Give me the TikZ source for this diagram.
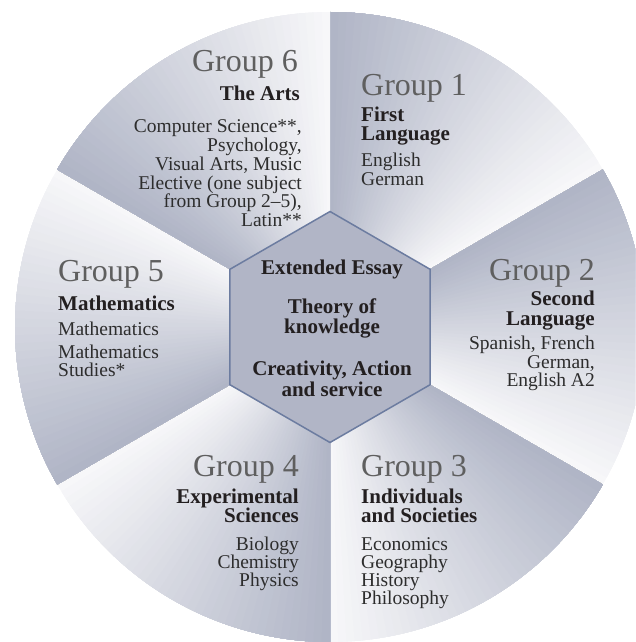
\documentclass[tikz,border=0pt]{standalone}
\usepackage{fontspec}
\setmainfont{Liberation Serif}
\usepackage{tikz}

\definecolor{secdark}{RGB}{176,181,198}
\definecolor{seclight}{RGB}{247,247,249}
\definecolor{corefill}{RGB}{177,181,198}
\definecolor{coreline}{RGB}{108,124,160}
\definecolor{titlegray}{RGB}{95,95,95}
\definecolor{headblack}{RGB}{35,31,32}
\definecolor{itemgray}{RGB}{45,45,45}

\tikzset{
  grouptitle/.style={font=\fontsize{32}{32}\selectfont, text=titlegray, inner sep=0pt},
  subjhead/.style={font=\fontsize{21}{21}\selectfont\bfseries, text=headblack, inner sep=0pt},
  subjitem/.style={font=\fontsize{19.5}{19.5}\selectfont, text=itemgray, inner sep=0pt},
  coretext/.style={font=\fontsize{21}{21}\selectfont\bfseries, text=headblack, inner sep=0pt, anchor=base},
}

\begin{document}
\begin{tikzpicture}[x=1pt,y=1pt]
  \useasboundingbox (0,0) rectangle (635,-642);
  \clip (0,0) rectangle (635,-642);
  \def\R{315pt}

  % six sectors, each fading from dark (ccw edge) to light (cw edge)
  \begin{scope}[shift={(330,-327)}]
    \foreach \b in {60,0,-60,-120,180,120} {
      \foreach \k [evaluate=\k as \a using {\b-30+1.5*\k},
                   evaluate=\k as \p using {100*\k/39}] in {0,...,39} {
        \fill[secdark!\p!seclight] (0,0) -- (\a:\R)
          arc[start angle=\a, end angle={\b+30}, radius=\R] -- cycle;
      }
    }
    % core hexagon
    \draw[fill=corefill, draw=coreline, line width=1.5pt]
      (90:115.5) -- (150:115.5) -- (210:115.5) -- (270:115.5)
      -- (330:115.5) -- (30:115.5) -- cycle;
  \end{scope}

  % core
  \node[coretext] (core1) at (332,-274) {Extended Essay};
  \node[coretext] (core2) at (332,-313.3) {Theory of};
  \node[coretext] (core3) at (332,-333.3) {knowledge};
  \node[coretext] (core4) at (332,-375) {Creativity, Action};
  \node[coretext] (core5) at (332,-396.7) {and service};

  % Group 1
  \node[grouptitle, anchor=base west] (g1title) at (361,-95.7) {Group 1};
  \foreach \t [count=\i] in {First,Language}
    \node[subjhead, anchor=base west] (g1head\i) at (361,{-121.7-19*(\i-1)}) {\t};
  \foreach \t [count=\i] in {English,German}
    \node[subjitem, anchor=base west] (g1item\i) at (361,{-166.7-18.3*(\i-1)}) {\t};

  % Group 2
  \node[grouptitle, anchor=base east] (g2title) at (595,-280) {Group 2};
  \foreach \t [count=\i] in {Second,Language}
    \node[subjhead, anchor=base east] (g2head\i) at (595,{-305.7-19.3*(\i-1)}) {\t};
  \foreach \t [count=\i] in {{Spanish, French},{German,},{English A2}}
    \node[subjitem, anchor=base east] (g2item\i) at (595,{-349.3-18.7*(\i-1)}) {\t};

  % Group 3
  \node[grouptitle, anchor=base west] (g3title) at (361,-476.7) {Group 3};
  \foreach \t [count=\i] in {Individuals,and Societies}
    \node[subjhead, anchor=base west] (g3head\i) at (361,{-503.3-19.4*(\i-1)}) {\t};
  \foreach \t [count=\i] in {Economics,Geography,History,Philosophy}
    \node[subjitem, anchor=base west] (g3item\i) at (361,{-550-18.3*(\i-1)}) {\t};

  % Group 4
  \node[grouptitle, anchor=base east] (g4title) at (299,-476.7) {Group 4};
  \foreach \t [count=\i] in {Experimental,Sciences}
    \node[subjhead, anchor=base east] (g4head\i) at (299,{-503.3-19.2*(\i-1)}) {\t};
  \foreach \t [count=\i] in {Biology,Chemistry,Physics}
    \node[subjitem, anchor=base east] (g4item\i) at (299,{-550-18*(\i-1)}) {\t};

  % Group 5
  \node[grouptitle, anchor=base west] (g5title) at (58,-281) {Group 5};
  \node[subjhead, anchor=base west] (g5head1) at (58,-310) {Mathematics};
  \node[subjitem, anchor=base west] (g5item1) at (58,-335) {Mathematics};
  \node[subjitem, anchor=base west] (g5item2) at (58,-358) {Mathematics};
  \node[subjitem, anchor=base west] (g5item3) at (58,-376.5) {Studies*};

  % Group 6
  \node[grouptitle, anchor=base east] (g6title) at (298,-71.7) {Group 6};
  \node[subjhead, anchor=base east] (g6head1) at (300,-100.7) {The Arts};
  \foreach \t [count=\i] in {{Computer Science**,},{Psychology,},{Visual Arts, Music},
      {Elective (one subject},{from Group 2--5),},{Latin**}}
    \node[subjitem, anchor=base east] (g6item\i) at (302,{-132.3-18.9*(\i-1)}) {\t};
\end{tikzpicture}
\end{document}
